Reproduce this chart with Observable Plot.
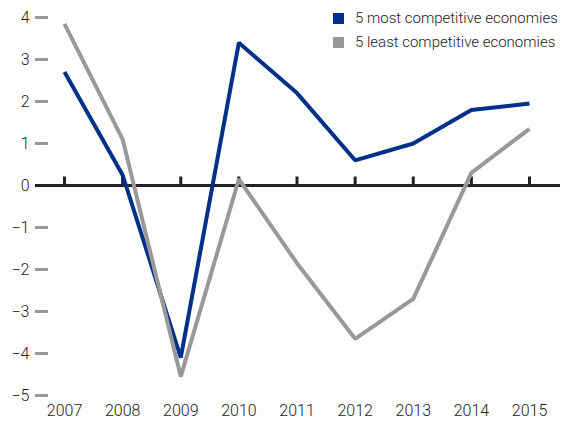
<!DOCTYPE html>
<html>
<head>
<meta charset="utf-8">
<script src="https://cdn.jsdelivr.net/npm/d3@7"></script>
<script src="https://cdn.jsdelivr.net/npm/@observablehq/plot@0.6"></script>
<style>
  body { margin: 0; background: #fff; }
  #wrap { position: relative; width: 561px; height: 425px; font-family: Roboto, "Liberation Sans", sans-serif; }
  #legend { position: absolute; left: 333px; top: 6px; font-size: 15px; font-weight: 300; color: #222; line-height: 24px; }
  #legend .row { display: flex; align-items: center; white-space: nowrap; }
  #legend .sw { width: 11px; height: 11px; margin-right: 11px; flex: none; }
</style>
</head>
<body>
<div id="wrap"><div id="legend"></div></div>
<script>
const years = [2007, 2008, 2009, 2010, 2011, 2012, 2013, 2014, 2015];
const mostCompetitive = [2.7, 0.25, -4.1, 3.4, 2.2, 0.6, 1.0, 1.8, 1.95];
const leastCompetitive = [3.85, 1.1, -4.55, 0.15, -1.85, -3.65, -2.7, 0.3, 1.35];
const seriesNames = ["5 most competitive economies", "5 least competitive economies"];
const seriesColors = ["#003087", "#999999"];
const yTicks = [4, 3, 2, 1, 0, -1, -2, -3, -4, -5];

const rows = [];
years.forEach((yr, i) => {
  rows.push({year: yr, value: mostCompetitive[i], series: seriesNames[0]});
  rows.push({year: yr, value: leastCompetitive[i], series: seriesNames[1]});
});

const tickSymbol = { draw(ctx, size) { ctx.moveTo(0, 0); ctx.lineTo(0, -9); } };
const font = 'Roboto, "Liberation Sans", sans-serif';

const chart = Plot.plot({
  width: 561,
  height: 425,
  marginLeft: 35,
  marginRight: 1,
  marginTop: 17,
  marginBottom: 30,
  style: { fontFamily: font, fontSize: "16px", fontWeight: 300, color: "#222", background: "#fff" },
  x: { domain: [2007, 2015], insetLeft: 29, insetRight: 31, axis: null, label: null },
  y: { domain: [-5, 4], axis: null, label: null },
  color: { domain: seriesNames, range: seriesColors },
  marks: [
    Plot.axisY({ ticks: yTicks, label: null, tickSize: 13, dx: 13, text: null, stroke: "#999", strokeWidth: 3, strokeOpacity: 1 }),
    Plot.axisY({ ticks: yTicks, label: null, tickSize: 0, tickPadding: 6, tickFormat: d => d < 0 ? "\u2212" + Math.abs(d) : String(d), fill: "#222", fontSize: 16 }),
    Plot.axisX({ ticks: years, label: null, tickSize: 0, tickPadding: 9, tickFormat: d => String(d), fill: "#222", fontSize: 16 }),
    Plot.ruleY([0], { stroke: "#222", strokeWidth: 3 }),
    Plot.dot(years, { x: d => d, y: () => 0, symbol: tickSymbol, stroke: "#222", strokeWidth: 3, fill: "none", r: 4 }),
    Plot.line(rows, { x: "year", y: "value", z: "series", stroke: "series", strokeWidth: 4, strokeLinejoin: "miter", strokeLinecap: "butt" })
  ]
});

document.getElementById("wrap").prepend(chart);
const legend = document.getElementById("legend");
seriesNames.forEach((name, i) => {
  const row = document.createElement("div");
  row.className = "row";
  const sw = document.createElement("span");
  sw.className = "sw";
  sw.style.background = seriesColors[i];
  const t = document.createElement("span");
  t.textContent = name;
  row.append(sw, t);
  legend.append(row);
});
</script>
</body>
</html>
